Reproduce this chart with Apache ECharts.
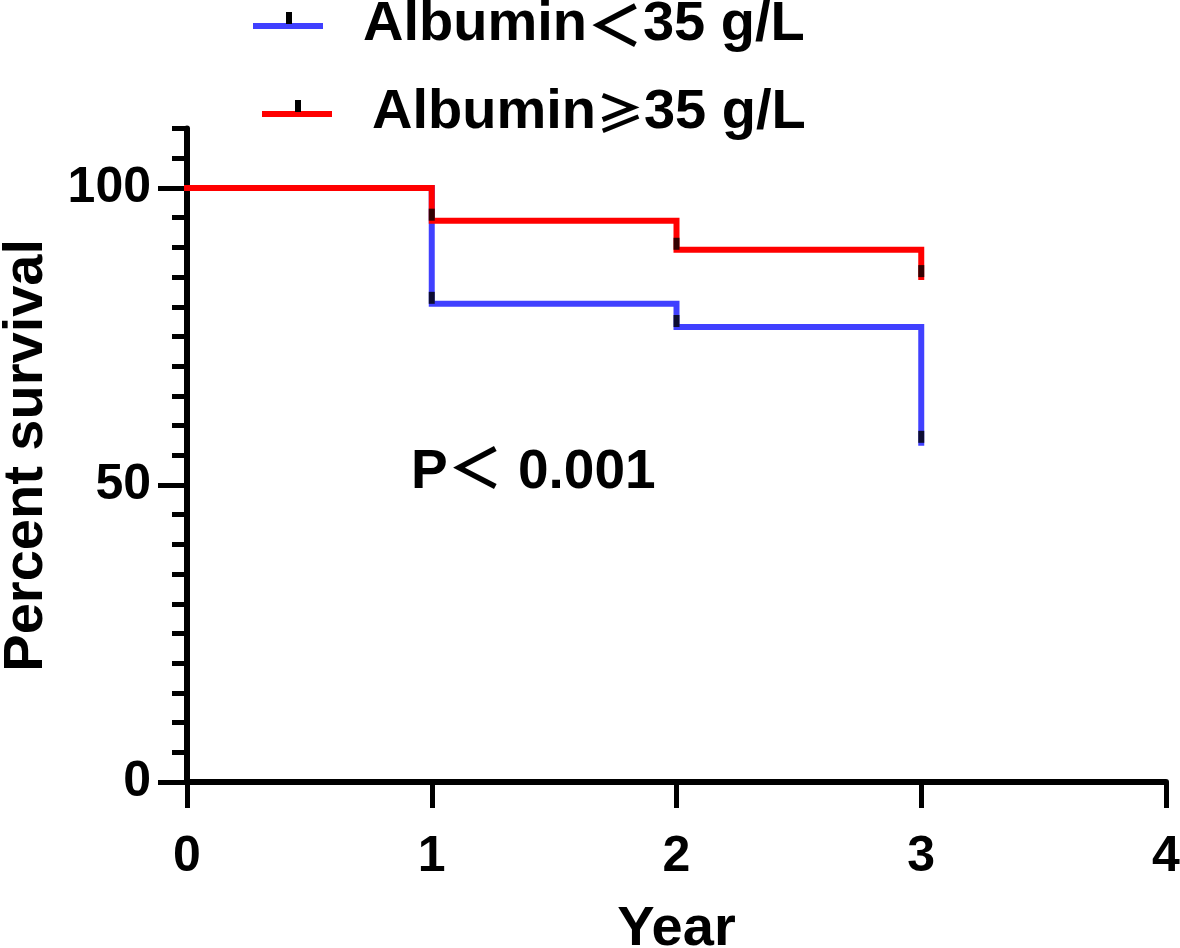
<!DOCTYPE html>
<html>
<head>
<meta charset="utf-8">
<script src="https://cdn.jsdelivr.net/npm/echarts@6/dist/echarts.min.js"></script>
<style>
html,body{margin:0;padding:0;background:#fff;}
#chart{width:1180px;height:948px;}
</style>
</head>
<body>
<div id="chart"></div>
<script>
// ---- data ----
const years = [0, 1, 2, 3];
const lowAlbName = 'Albumin＜35 g/L';
const highAlbName = 'Albumin≥35 g/L';
const lowAlbSurvival = [100, 80.5, 76.6, 57.1];
const highAlbSurvival = [100, 94.5, 89.6, 85.0];
const censorYears = [1, 2, 3];
const lowAlbCensor = [80.5, 76.6, 57.1];
const highAlbCensor = [94.5, 89.6, 85.0];
const xTicks = [0, 1, 2, 3, 4];
const yMajorTicks = [0, 50, 100];
const pText = 'P＜ 0.001';

const BLUE = '#4040ff';
const RED = '#ff0000';
const FONT = "'Liberation Sans', Arial, 'Noto Sans CJK SC', sans-serif";
const CJK = "'Noto Sans CJK SC', 'Liberation Sans', sans-serif";

function legendIcon(color) {
  const svg = "<svg xmlns='http://www.w3.org/2000/svg' width='105' height='30'>" +
    "<rect x='0' y='13' width='70' height='6' fill='" + color + "'/>" +
    "<rect x='33' y='2' width='6' height='12' fill='#000'/></svg>";
  return 'image://data:image/svg+xml;charset=utf-8,' + encodeURIComponent(svg);
}

const pairs = (xs, ys) => xs.map((x, i) => [x, ys[i]]);

const legendText = {
  color: '#000', fontSize: 56, fontWeight: 'bold', fontFamily: FONT, lineHeight: 60,
  rich: {
    s: { fontFamily: CJK, fontSize: 56, fontWeight: 'bold', color: '#000', lineHeight: 60 },
    g: { fontFamily: CJK, fontSize: 48, fontWeight: 'bold', color: '#000', lineHeight: 60 }
  }
};
const fmtLegend = n => n.replace('≥', '{g|≥}').replace('＜', '{s|＜}');

const chart = echarts.init(document.getElementById('chart'));
chart.setOption({
  backgroundColor: '#fff',
  animation: false,
  title: {
    text: pText, left: 411, top: 445, padding: 0,
    textStyle: { color: '#000', fontSize: 55, fontWeight: 'bold', fontFamily: FONT }
  },
  legend: [
    { data: [{ name: lowAlbName, icon: legendIcon(BLUE) }], left: 253, top: -5, padding: 0,
      itemWidth: 105, itemHeight: 30, textStyle: legendText, formatter: fmtLegend, selectedMode: false },
    { data: [{ name: highAlbName, icon: legendIcon(RED) }], left: 262, top: 83, padding: 0,
      itemWidth: 105, itemHeight: 30, textStyle: legendText, formatter: fmtLegend, selectedMode: false }
  ],
  grid: { left: 187, right: 14, top: 128.6, bottom: 166, containLabel: false, outerBoundsMode: 'none' },
  xAxis: {
    type: 'value', min: xTicks[0], max: xTicks[xTicks.length - 1], interval: 1,
    name: 'Year', nameLocation: 'middle', nameGap: 120,
    nameTextStyle: { color: '#000', fontSize: 56, fontWeight: 'bold', fontFamily: FONT },
    axisLine: { show: true, onZero: false, lineStyle: { color: '#000', width: 6 } },
    axisTick: { show: true, length: 26, lineStyle: { color: '#000', width: 5 } },
    axisLabel: { color: '#000', fontSize: 50, fontWeight: 'bold', fontFamily: FONT, margin: 50 },
    splitLine: { show: false }
  },
  yAxis: [
    {
      type: 'value', min: 0, max: 110, interval: 5, position: 'left',
      axisLine: { show: true, onZero: false, lineStyle: { color: '#000', width: 6 } },
      axisTick: { show: true, length: 15, lineStyle: { color: '#000', width: 5 } },
      axisLabel: { show: false },
      splitLine: { show: false }
    },
    {
      type: 'value', min: 0, max: 110, interval: 50, position: 'left',
      name: 'Percent survival', nameLocation: 'middle', nameGap: 132,
      nameTextStyle: { color: '#000', fontSize: 56, fontWeight: 'bold', fontFamily: FONT },
      axisLine: { show: false },
      axisTick: { show: true, length: 29, customValues: yMajorTicks, lineStyle: { color: '#000', width: 5 } },
      axisLabel: { color: '#000', fontSize: 50, fontWeight: 'bold', fontFamily: FONT, margin: 36, customValues: yMajorTicks },
      splitLine: { show: false }
    }
  ],
  series: [
    {
      name: lowAlbName, type: 'line', step: 'end', yAxisIndex: 0,
      data: pairs(years, lowAlbSurvival), showSymbol: false, symbol: 'none',
      color: BLUE, lineStyle: { color: BLUE, width: 6, join: 'miter', cap: 'square' }, z: 3
    },
    {
      name: highAlbName, type: 'line', step: 'end', yAxisIndex: 0,
      data: pairs(years, highAlbSurvival), showSymbol: false, symbol: 'none',
      color: RED, lineStyle: { color: RED, width: 6, join: 'miter', cap: 'square' }, z: 4
    },
    {
      name: 'censor-low', type: 'scatter', yAxisIndex: 0,
      data: pairs(censorYears, lowAlbCensor), symbol: 'rect', symbolSize: [6, 12], symbolOffset: [0, -6],
      itemStyle: { color: '#000' }, z: 5, silent: true
    },
    {
      name: 'censor-high', type: 'scatter', yAxisIndex: 0,
      data: pairs(censorYears, highAlbCensor), symbol: 'rect', symbolSize: [6, 12], symbolOffset: [0, -6],
      itemStyle: { color: '#000' }, z: 5, silent: true
    }
  ]
});
</script>
</body>
</html>
